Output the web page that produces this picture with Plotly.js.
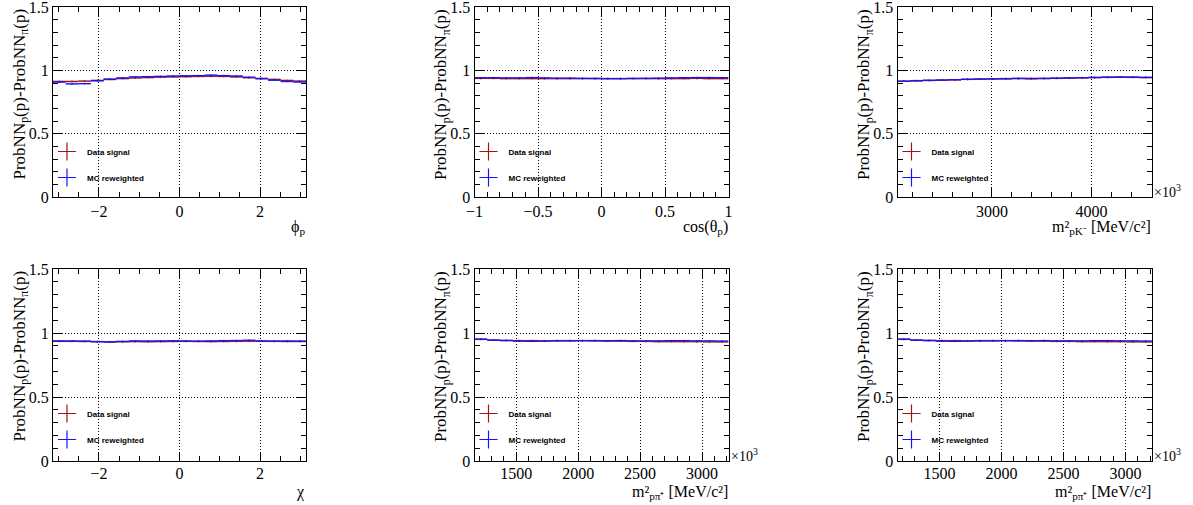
<!DOCTYPE html>
<html>
<head>
<meta charset="utf-8">
<script src="https://cdn.plot.ly/plotly-3.0.1.min.js"></script>
<style>html,body{margin:0;padding:0;background:#fff;}#chart{width:1193px;height:505px;}</style>
</head>
<body>
<div id="chart"></div>
<script>
// ---------------- data ----------------
// bin ranges (x-axis ranges of each panel)
const phiRange = [-Math.PI, Math.PI];
const cosRange = [-1, 1];
const mpkRange = [2050.5, 4609.1];   // x10^3 MeV^2/c^4
const chiRange = [-Math.PI, Math.PI];
const mppiRange = [1161.7, 3214.1];  // x10^3 MeV^2/c^4

// panel 1: phi_p
const phiData = [0.912,0.912,0.915,0.920,0.928,0.935,0.940,0.943,0.946,0.948,0.950,0.952,0.953,0.952,0.948,0.942,0.935,0.928,0.920,0.915];
const phiMC   = [0.908,0.893,0.895,0.918,0.930,0.940,0.948,0.950,0.952,0.955,0.957,0.958,0.962,0.958,0.955,0.945,0.935,0.922,0.912,0.908];
// panel 2: cos(theta_p)
const cosData = [0.936,0.936,0.935,0.935,0.935,0.934,0.934,0.935,0.934,0.934,0.934,0.934,0.935,0.935,0.934,0.935,0.935,0.936,0.935,0.935];
const cosMC   = [0.942,0.942,0.940,0.941,0.943,0.940,0.938,0.938,0.937,0.936,0.935,0.935,0.936,0.937,0.938,0.940,0.942,0.943,0.943,0.942];
// panel 3: m^2(pK-)
const mpkData = [0.915,0.918,0.920,0.922,0.925,0.928,0.930,0.932,0.933,0.934,0.933,0.935,0.937,0.938,0.940,0.942,0.944,0.946,0.945,0.943];
const mpkMC   = [0.913,0.917,0.920,0.923,0.926,0.929,0.931,0.932,0.935,0.937,0.936,0.937,0.938,0.940,0.942,0.944,0.946,0.947,0.947,0.945];
// panel 4: chi
const chiData = [0.935,0.935,0.934,0.933,0.931,0.932,0.933,0.932,0.933,0.934,0.935,0.934,0.933,0.934,0.935,0.936,0.936,0.935,0.934,0.934];
const chiMC   = [0.938,0.937,0.936,0.932,0.930,0.934,0.938,0.937,0.938,0.939,0.937,0.936,0.938,0.940,0.941,0.943,0.937,0.936,0.937,0.936];
// panels 5 and 6: m^2(p pi+)
const mppiData = [0.950,0.945,0.942,0.941,0.940,0.939,0.940,0.941,0.940,0.939,0.937,0.936,0.935,0.934,0.933,0.933,0.932,0.932,0.931,0.930];
const mppiMC   = [0.952,0.944,0.941,0.936,0.935,0.936,0.938,0.939,0.940,0.941,0.940,0.941,0.939,0.938,0.939,0.940,0.940,0.939,0.938,0.937];

const errData = 0.007;
const errMC = 0.006;

const seriesNames = ["Data signal", "MC reweighted"];
const yTitle = "ProbNN<sub>p</sub>(p)-ProbNN<sub>π</sub>(p)";
const xTitles = ["ϕ<sub>p</sub>", "cos(θ<sub>p</sub>)", "m²<sub>pK⁻</sub> [MeV/c²]",
                 "χ", "m²<sub>pπ⁺</sub> [MeV/c²]", "m²<sub>pπ⁺</sub> [MeV/c²]"];
const yTickVals = [0, 0.5, 1, 1.5];
const yTickText = ["0", "0.5", "1", "1.5"];

// ---------------- layout helpers ----------------
const W = 1193, H = 505;
const cols = [[53, 306], [474.5, 728.5], [897.5, 1152]];
const rows = [[7, 197], [269, 461]];
const xTitleY = [228, 492];
const xStandoff = [0, -2];

const panels = [
  {range: phiRange, d: phiData, m: phiMC, dtick: 2, minor: 0.5, tick0: 0, exp: false},
  {range: cosRange, d: cosData, m: cosMC, dtick: 0.5, minor: 0.1, tick0: 0, exp: false},
  {range: mpkRange, d: mpkData, m: mpkMC, dtick: 1000, minor: 200, tick0: 0, exp: true},
  {range: chiRange, d: chiData, m: chiMC, dtick: 2, minor: 0.5, tick0: 0, exp: false},
  {range: mppiRange, d: mppiData, m: mppiMC, dtick: 500, minor: 100, tick0: 0, exp: true},
  {range: mppiRange, d: mppiData, m: mppiMC, dtick: 500, minor: 100, tick0: 0, exp: true},
];

const dataLine = "rgb(160,20,20)";
const dataBand = "rgba(215,90,90,0.45)";
const mcLine = "rgb(20,20,255)";
const mcBand = "rgba(90,90,255,0.45)";

const serif = "Liberation Serif";
const traces = [];
const layout = {
  width: W, height: H,
  margin: {l: 0, r: 0, t: 0, b: 0},
  paper_bgcolor: "#fff", plot_bgcolor: "rgba(0,0,0,0)",
  font: {family: serif, size: 16, color: "#000"},
  showlegend: true,
  barmode: "overlay",
  annotations: [],
};

panels.forEach((p, i) => {
  const r = Math.floor(i / 3), c = i % 3;
  const sfx = i === 0 ? "" : String(i + 1);
  const xa = "x" + sfx, ya = "y" + sfx;
  const n = p.d.length;
  const bw = (p.range[1] - p.range[0]) / n;
  const centers = p.d.map((_, k) => p.range[0] + (k + 0.5) * bw);
  const legName = i === 0 ? "legend" : "legend" + (i + 1);

  [[p.d, errData, dataLine, dataBand, 0], [p.m, errMC, mcLine, mcBand, 1]].forEach(([vals, err, lc, bc, s]) => {
    traces.push({
      type: "bar", x: centers, y: vals.map(() => 2 * err), base: vals.map(v => v - err),
      width: bw, marker: {color: bc, line: {width: 0}}, xaxis: xa, yaxis: ya,
      showlegend: false, hoverinfo: "skip"
    });
    traces.push({
      type: "scatter", mode: "markers", x: centers, y: vals, xaxis: xa, yaxis: ya,
      marker: {size: 1, color: lc},
      error_x: {type: "constant", value: bw / 2, width: 0, thickness: 1.3, color: lc},
      error_y: {type: "constant", value: err, width: 0, thickness: 1, color: lc},
      showlegend: false
    });
    // legend entry
    traces.push({
      type: "scatter", mode: "markers", x: [null], y: [null], xaxis: xa, yaxis: ya,
      name: seriesNames[s], legend: legName, legendgroup: "g" + i + s,
      marker: {symbol: "cross-thin-open", size: 13, color: lc, line: {color: lc, width: 1.2}},
    });
  });

  const axCommon = {
    showline: true, linecolor: "#000", linewidth: 1, mirror: "allticks",
    ticks: "inside", ticklen: 9, tickcolor: "#000", tickwidth: 1,
    showgrid: true, gridcolor: "#000", griddash: "1px,2px", gridwidth: 1,
    zeroline: false, fixedrange: true, ticklabeloverflow: "allow",
    tickfont: {family: serif, size: 16, color: "#000"},
  };
  layout["xaxis" + sfx] = Object.assign({}, axCommon, {
    domain: [cols[c][0] / W, cols[c][1] / W], anchor: ya, range: p.range,
    dtick: p.dtick, tick0: p.tick0, tickmode: "linear", ticklabelstandoff: xStandoff[r],
    minor: {ticks: "inside", ticklen: 5, tickcolor: "#000", dtick: p.minor, tick0: 0, showgrid: false},
  });
  layout["yaxis" + sfx] = Object.assign({}, axCommon, {
    domain: [1 - rows[r][1] / H, 1 - rows[r][0] / H], anchor: xa, range: [0, 1.5],
    tickmode: "array", tickvals: yTickVals, ticktext: yTickText,
    minor: {ticks: "inside", ticklen: 5, tickcolor: "#000", dtick: 0.1, tick0: 0, showgrid: false},
  });

  layout[legName] = {
    x: (cols[c][0] - 6) / W, y: 1 - (rows[r][0] + 130) / H, xanchor: "left", yanchor: "top",
    bgcolor: "rgba(0,0,0,0)", borderwidth: 0,
    font: {family: "Liberation Sans", size: 8, color: "#000", weight: "bold"},
    traceorder: "grouped", tracegroupgap: 7, itemwidth: 30,
  };

  // y title
  layout.annotations.push({
    xref: "paper", yref: "paper", x: (cols[c][0] - 33) / W, y: 1 - rows[r][0] / H,
    xanchor: "center", yanchor: "top", textangle: -90, showarrow: false,
    text: yTitle, font: {family: serif, size: 17, color: "#000"}
  });
  // x title
  layout.annotations.push({
    xref: "paper", yref: "paper", x: (cols[c][1] + 1) / W, y: 1 - xTitleY[r] / H,
    xanchor: "right", yanchor: "middle", showarrow: false,
    text: xTitles[i], font: {family: serif, size: 16, color: "#000"}
  });
  if (p.exp) {
    layout.annotations.push({
      xref: "paper", yref: "paper", x: (cols[c][1] + 0) / W, y: 1 - (rows[r][1] - 6) / H,
      xanchor: "left", yanchor: "middle", showarrow: false,
      text: "×10<sup>3</sup>", font: {family: serif, size: 14, color: "#000"}
    });
  }
});

Plotly.newPlot("chart", traces, layout, {displayModeBar: false, staticPlot: true});
</script>
</body>
</html>
